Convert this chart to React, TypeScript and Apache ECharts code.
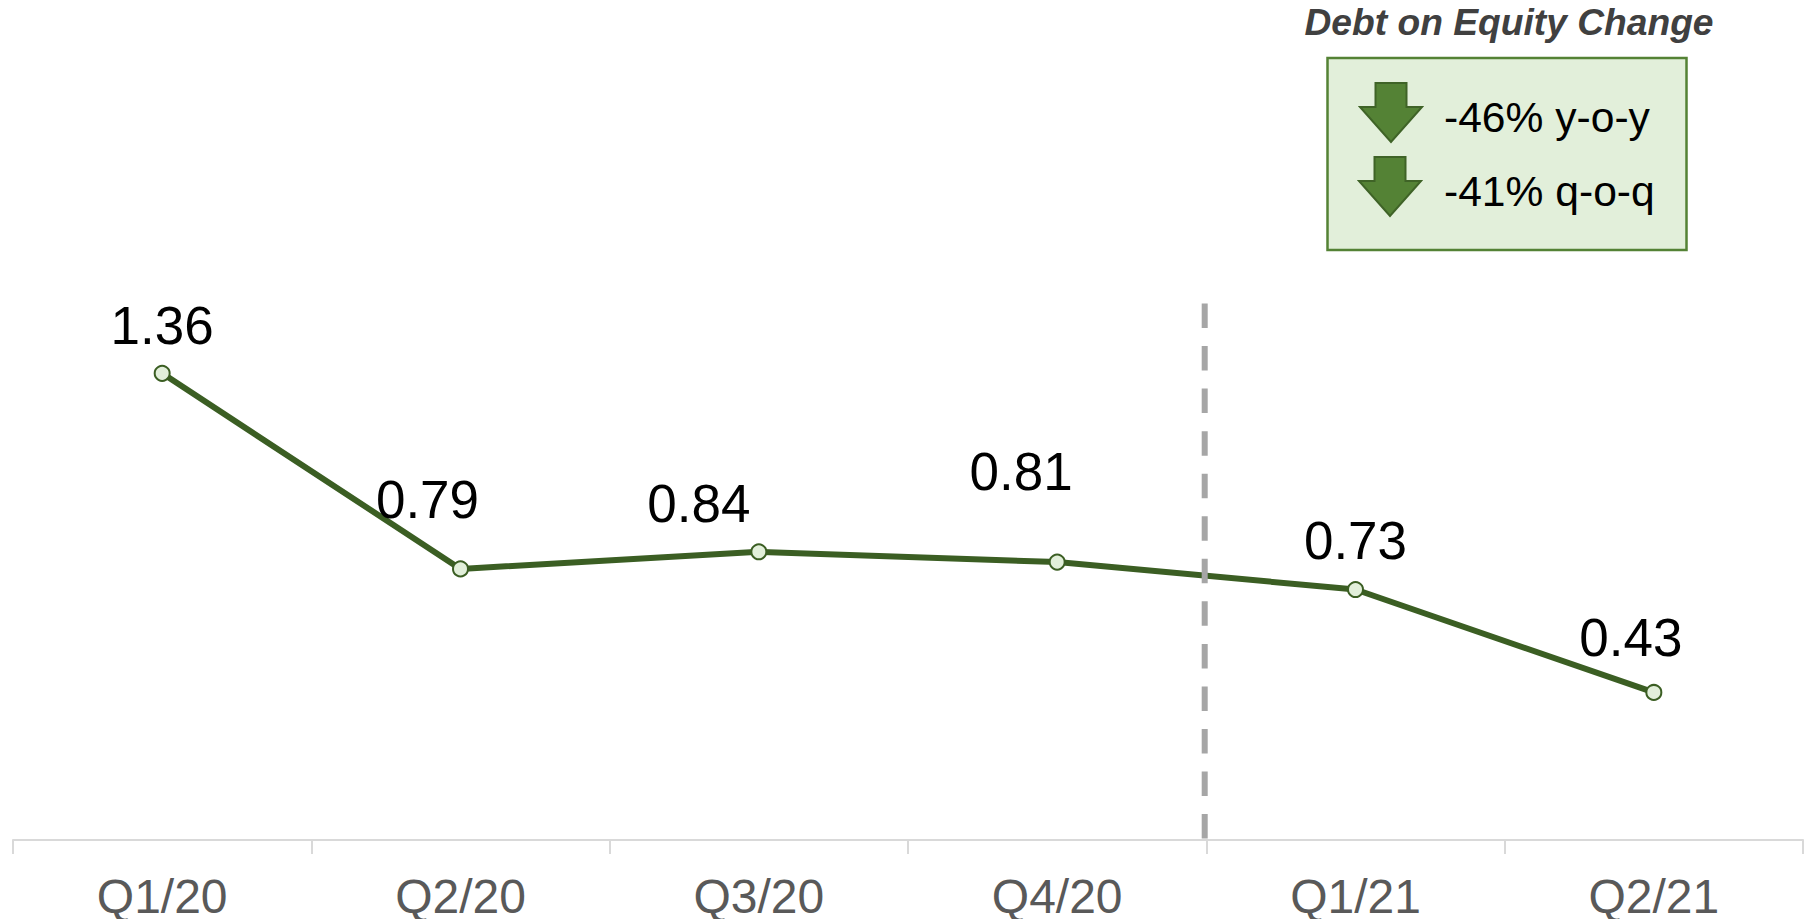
import React, { useEffect, useRef } from "react";
import * as echarts from "echarts";

const categories = ["Q1/20", "Q2/20", "Q3/20", "Q4/20", "Q1/21", "Q2/21"];
const debtOnEquity = [1.36, 0.79, 0.84, 0.81, 0.73, 0.43];
const labelOffsets = [
  [0, -48],
  [-33, -69],
  [-60, -48],
  [-36, -91],
  [0, -49],
  [-23, -55],
];
const boxTitle = "Debt on Equity Change";
const boxLines = ["-46% y-o-y", "-41% q-o-q"];

const FONT = "'Liberation Sans', Arial, sans-serif";

const arrow = (x: number, y: number) => ({
  type: "polygon",
  shape: {
    points: [
      [x + 15.5, y],
      [x + 46.5, y],
      [x + 46.5, y + 24],
      [x + 62, y + 24],
      [x + 31, y + 59],
      [x, y + 24],
      [x + 15.5, y + 24],
    ],
  },
  style: { fill: "#548235", stroke: "#3F6327", lineWidth: 2 },
  z: 10,
});

export default function App() {
  const ref = useRef<HTMLDivElement>(null);
  useEffect(() => {
    document.body.style.margin = "0";
    document.body.style.overflow = "hidden";
    const chart = echarts.init(ref.current!, null, { renderer: "svg" });
    chart.setOption({
      animation: false,
      backgroundColor: "#ffffff",
      grid: { left: 13, right: 10, top: 291, bottom: 79, outerBoundsMode: "none" },
      xAxis: {
        type: "category",
        data: categories,
        boundaryGap: true,
        axisLine: { show: true, lineStyle: { color: "#D9D9D9", width: 2 } },
        axisTick: { show: true, alignWithLabel: false, length: 14, lineStyle: { color: "#D9D9D9", width: 2 } },
        axisLabel: {
          color: "#595959",
          fontFamily: FONT,
          fontSize: 48,
          margin: 32,
          interval: 0,
        },
      },
      yAxis: { type: "value", min: 0, max: 1.6, show: false, splitLine: { show: false } },
      series: [
        {
          type: "line",
          data: debtOnEquity.map((value, i) => ({
            value,
            label: { offset: labelOffsets[i] },
          })),
          smooth: false,
          symbol: "circle",
          symbolSize: 15,
          lineStyle: { color: "#3B5E23", width: 6 },
          itemStyle: { color: "#E2EFDA", borderColor: "#3B5E23", borderWidth: 2 },
          label: {
            show: true,
            position: "inside",
            align: "center",
            verticalAlign: "middle",
            color: "#000000",
            fontFamily: FONT,
            fontSize: 53,
            formatter: (p: any) => p.value.toFixed(2),
          },
          z: 3,
        },
      ],
      graphic: [
        {
          type: "line",
          shape: { x1: 1204.7, y1: 303.5, x2: 1204.7, y2: 839 },
          style: { stroke: "#A6A6A6", lineWidth: 6, lineDash: [24.5, 18.05] },
          z: 10,
        },
        {
          type: "text",
          x: 1509,
          y: 22,
          style: {
            text: boxTitle,
            fill: "#404040",
            font: `italic bold 37.2px ${FONT}`,
            textAlign: "center",
            textVerticalAlign: "middle",
          },
          z: 10,
        },
        {
          type: "rect",
          shape: { x: 1327.5, y: 58, width: 359, height: 192 },
          style: { fill: "#E2EFDA", stroke: "#548235", lineWidth: 2.5 },
          z: 9,
        },
        arrow(1360, 83),
        arrow(1359, 157),
        {
          type: "text",
          x: 1444,
          y: 117,
          style: {
            text: boxLines[0],
            fill: "#000000",
            font: `42.6px ${FONT}`,
            textVerticalAlign: "middle",
          },
          z: 10,
        },
        {
          type: "text",
          x: 1444,
          y: 191,
          style: {
            text: boxLines[1],
            fill: "#000000",
            font: `42.6px ${FONT}`,
            textVerticalAlign: "middle",
          },
          z: 10,
        },
      ],
    });
    return () => chart.dispose();
  }, []);
  return <div ref={ref} style={{ width: 1813, height: 919 }} />;
}
